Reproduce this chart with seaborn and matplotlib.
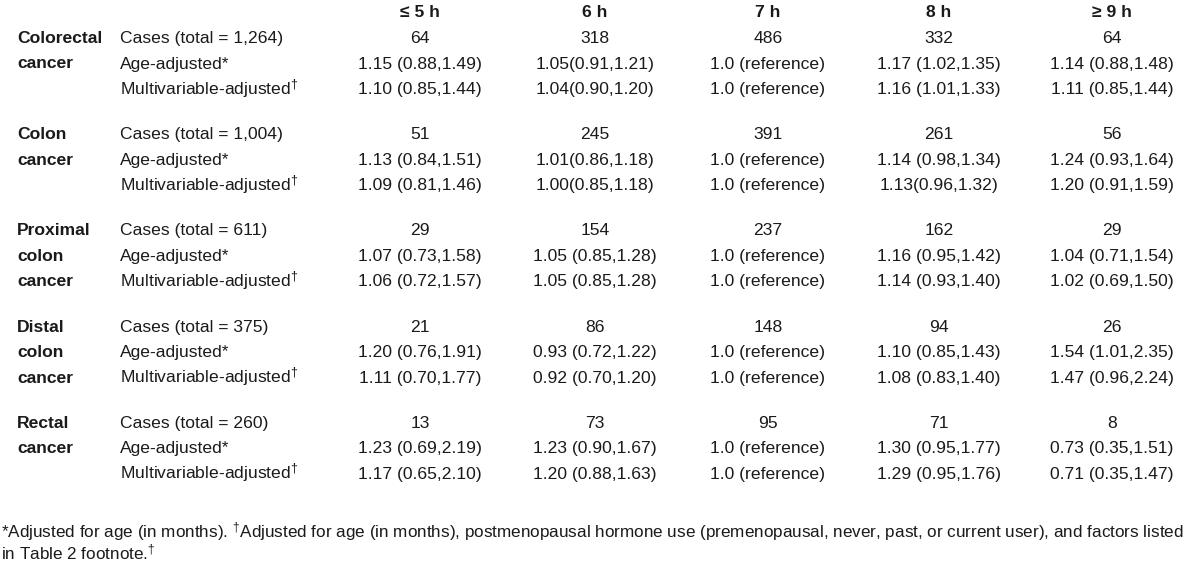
import matplotlib
matplotlib.use("Agg")
import matplotlib.pyplot as plt
import seaborn as sns

# Data
hours = ["≤ 5 h", "6 h", "7 h", "8 h", "≥ 9 h"]
groups = ["Colorectal\ncancer", "Colon\ncancer", "Proximal\ncolon\ncancer",
          "Distal\ncolon\ncancer", "Rectal\ncancer"]
totals = ["1,264", "1,004", "611", "375", "260"]
cases = [
    [64, 318, 486, 332, 64],
    [51, 245, 391, 261, 56],
    [29, 154, 237, 162, 29],
    [21, 86, 148, 94, 26],
    [13, 73, 95, 71, 8],
]
age_adjusted = [
    ["1.15 (0.88,1.49)", "1.05(0.91,1.21)", "1.0 (reference)", "1.17 (1.02,1.35)", "1.14 (0.88,1.48)"],
    ["1.13 (0.84,1.51)", "1.01(0.86,1.18)", "1.0 (reference)", "1.14 (0.98,1.34)", "1.24 (0.93,1.64)"],
    ["1.07 (0.73,1.58)", "1.05 (0.85,1.28)", "1.0 (reference)", "1.16 (0.95,1.42)", "1.04 (0.71,1.54)"],
    ["1.20 (0.76,1.91)", "0.93 (0.72,1.22)", "1.0 (reference)", "1.10 (0.85,1.43)", "1.54 (1.01,2.35)"],
    ["1.23 (0.69,2.19)", "1.23 (0.90,1.67)", "1.0 (reference)", "1.30 (0.95,1.77)", "0.73 (0.35,1.51)"],
]
multi_adjusted = [
    ["1.10 (0.85,1.44)", "1.04(0.90,1.20)", "1.0 (reference)", "1.16 (1.01,1.33)", "1.11 (0.85,1.44)"],
    ["1.09 (0.81,1.46)", "1.00(0.85,1.18)", "1.0 (reference)", "1.13(0.96,1.32)", "1.20 (0.91,1.59)"],
    ["1.06 (0.72,1.57)", "1.05 (0.85,1.28)", "1.0 (reference)", "1.14 (0.93,1.40)", "1.02 (0.69,1.50)"],
    ["1.11 (0.70,1.77)", "0.92 (0.70,1.20)", "1.0 (reference)", "1.08 (0.83,1.40)", "1.47 (0.96,2.24)"],
    ["1.17 (0.65,2.10)", "1.20 (0.88,1.63)", "1.0 (reference)", "1.29 (0.95,1.76)", "0.71 (0.35,1.47)"],
]
footnote = [
    r"*Adjusted for age (in months). $^{\dagger}$Adjusted for age (in months), postmenopausal hormone use "
    r"(premenopausal, never, past, or current user), and factors listed",
    r"in Table 2 footnote.$^{\dagger}$",
]

# Layout (pixels)
col_x = [420, 595, 768, 939, 1112]
label_x = 120
group_x = 17
header_y = 11
first_y = 37
group_step = 96.2
row_step = 25.5
foot_y = [531, 553]
base_off = 6  # half cap height, so baseline-anchored text is centred on the row

sns.set_theme(style="white")
FAMILY = "Liberation Sans"
plt.rcParams['font.family'] = [FAMILY, 'DejaVu Sans']
plt.rcParams['mathtext.fontset'] = 'custom'
plt.rcParams['mathtext.rm'] = FAMILY
plt.rcParams['mathtext.it'] = FAMILY
FS = 12.6
FS_FOOT = 12.3
TXT = "#1a1a1a"

fig = plt.figure(figsize=(12, 5.67), dpi=100)
ax = fig.add_axes([0, 0, 1, 1])
ax.set_xlim(0, 1200)
ax.set_ylim(567, 0)
ax.axis("off")

for x, h in zip(col_x, hours):
    ax.text(x, header_y + base_off, h, ha="center", va="baseline", fontsize=FS,
            fontweight="bold", color=TXT)

for g, name in enumerate(groups):
    y0 = first_y + g * group_step
    for k, line in enumerate(name.split("\n")):
        ax.text(group_x, y0 + k * row_step + base_off, line, ha="left", va="baseline",
                fontsize=FS, fontweight="bold", color=TXT)
    labels = [f"Cases (total = {totals[g]})", "Age-adjusted*", r"Multivariable-adjusted$^{\dagger}$"]
    rows = [[str(v) for v in cases[g]], age_adjusted[g], multi_adjusted[g]]
    for r in range(3):
        y = y0 + r * row_step + base_off
        ax.text(label_x, y, labels[r], ha="left", va="baseline", fontsize=FS, color=TXT)
        for x, val in zip(col_x, rows[r]):
            ax.text(x, y, val, ha="center", va="baseline", fontsize=FS, color=TXT)

for y, line in zip(foot_y, footnote):
    ax.text(1, y + base_off, line, ha="left", va="baseline", fontsize=FS_FOOT, color=TXT)

fig.savefig("out.png", dpi=100, facecolor="white")
